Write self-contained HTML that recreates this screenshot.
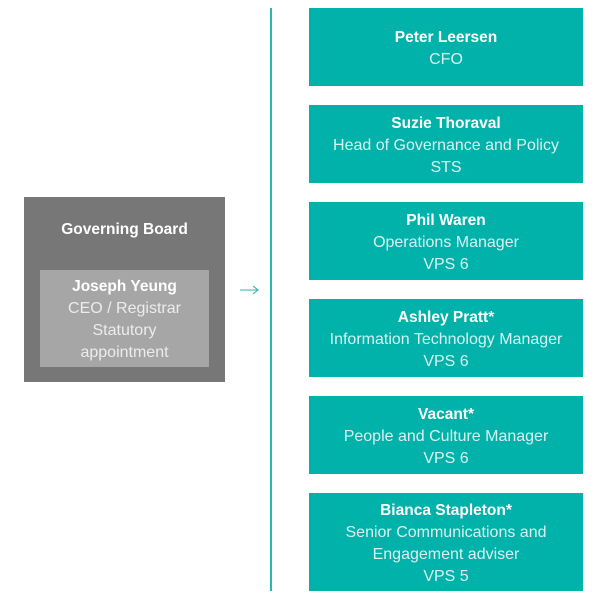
<!DOCTYPE html>
<html><head><style>
body{margin:0;width:600px;height:600px;background:#fff;position:relative;font-family:"Liberation Sans",sans-serif;overflow:hidden}
.b{position:absolute;left:309px;width:274px;background:#00b2a9;color:#d9f2f0;text-align:center;font-size:16px;line-height:22px;box-sizing:border-box;padding-top:3px;display:flex;flex-direction:column;justify-content:center}
.b b,.g b{color:#fff;font-size:15.5px}
.g{position:absolute;text-align:center;font-size:16px;line-height:22px}
</style></head><body>
<div style="position:absolute;left:270px;top:8px;width:2px;height:583px;background:#2bb7ae"></div>
<div style="position:absolute;left:24px;top:197px;width:201px;height:185px;background:#777"></div>
<div class="g" style="left:24px;top:219px;width:201px"><b>Governing Board</b></div>
<div style="position:absolute;left:40px;top:270px;width:169px;height:97px;background:#a6a6a6"></div>
<div class="g" style="left:40px;top:276px;width:169px;color:#ececec"><b>Joseph Yeung</b><br>CEO / Registrar<br>Statutory<br>appointment</div>
<svg style="position:absolute;left:238px;top:283px" width="24" height="14"><path d="M2 7H20M15 3L20 7L15 11" stroke="#2bb7ae" stroke-width="1.1" fill="none"/></svg>
<div class="b" style="top:8px;height:78px"><b>Peter Leersen</b>CFO</div>
<div class="b" style="top:105px;height:78px"><b>Suzie Thoraval</b>Head of Governance and Policy<br>STS</div>
<div class="b" style="top:202px;height:78px"><b>Phil Waren</b>Operations Manager<br>VPS 6</div>
<div class="b" style="top:299px;height:78px"><b>Ashley Pratt*</b>Information Technology Manager<br>VPS 6</div>
<div class="b" style="top:396px;height:78px"><b>Vacant*</b>People and Culture Manager<br>VPS 6</div>
<div class="b" style="top:493px;height:98px"><b>Bianca Stapleton*</b>Senior Communications and<br>Engagement adviser<br>VPS 5</div>
</body></html>
